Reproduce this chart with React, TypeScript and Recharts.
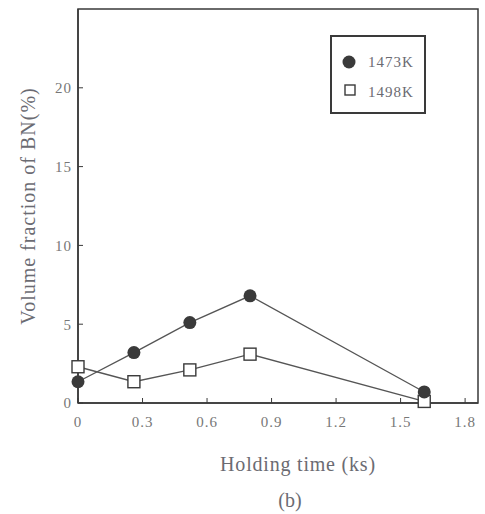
import React from "react";
import { LineChart, Line, XAxis, YAxis, ReferenceArea } from "recharts";

// holding time (ks)
const holdingTime = [0, 0.26, 0.52, 0.8, 1.61];
const bn1473 = [1.35, 3.2, 5.1, 6.8, 0.7];
const bn1498 = [2.3, 1.35, 2.1, 3.1, 0.1];

const xTicks = [0, 0.3, 0.6, 0.9, 1.2, 1.5, 1.8];
const yTicks = [0, 5, 10, 15, 20];
const xMax = 1.86;
const yMax = 25;

const seriesNames = ["1473K", "1498K"];

const font = "'Liberation Serif', 'DejaVu Serif', serif";
const ink = "#3a3a3a";
const textGray = "#6b6b72";

const data = holdingTime.map((t, i) => ({ t, a: bn1473[i], b: bn1498[i] }));

const SquareDot = (p: any) => {
  if (p.cx == null || p.cy == null) return null;
  return (
    <rect
      key={`sq-${p.index}`}
      x={p.cx - 6}
      y={p.cy - 6}
      width={12}
      height={12}
      fill="#fff"
      stroke={ink}
      strokeWidth={1.4}
    />
  );
};

const CircleDot = (p: any) => {
  if (p.cx == null || p.cy == null) return null;
  return <circle key={`c-${p.index}`} cx={p.cx} cy={p.cy} r={6.5} fill={ink} />;
};

const LegendBox = () => (
  <div
    style={{
      position: "absolute",
      left: 330,
      top: 35,
      border: `2px solid ${ink}`,
      width: 96,
      height: 79,
      background: "#fff",
      fontFamily: font,
      fontSize: 15,
      letterSpacing: 1,
      color: textGray,
      boxSizing: "border-box",
      paddingTop: 12,
    }}
  >
    <div style={{ display: "flex", alignItems: "center", height: 26 }}>
      <svg width={36} height={20}>
        <circle cx={17} cy={10} r={6.5} fill={ink} />
      </svg>
      <span>{seriesNames[0]}</span>
    </div>
    <div style={{ display: "flex", alignItems: "center", height: 26, marginTop: 4 }}>
      <svg width={36} height={20}>
        <rect x={13} y={3} width={10} height={10} fill="#fff" stroke={ink} strokeWidth={1.4} />
      </svg>
      <span>{seriesNames[1]}</span>
    </div>
  </div>
);

export default function App() {
  const tickStyle = { fill: "#777", fontSize: 15, fontFamily: font, letterSpacing: 1 };
  return (
    <div style={{ position: "absolute", left: 0, top: 0, width: 485, height: 514, background: "#fff" }}>
      <LineChart
        width={485}
        height={514}
        data={data}
        margin={{ top: 9, right: 7, bottom: 41, left: 0 }}
      >
        <XAxis
          dataKey="t"
          type="number"
          domain={[0, xMax]}
          ticks={xTicks}
          tickFormatter={(v: number) => String(v)}
          height={70}
          tick={tickStyle}
          tickSize={-5}
          tickMargin={18}
          axisLine={{ stroke: ink, strokeWidth: 1.5 }}
          tickLine={{ stroke: ink }}
          label={{
            value: "Holding time (ks)",
            position: "insideBottom",
            offset: 2,
            dx: 20,
            style: { fill: textGray, fontSize: 20, fontFamily: font, letterSpacing: 0.8 },
          }}
        />
        <YAxis
          type="number"
          domain={[0, yMax]}
          ticks={yTicks}
          width={78}
          tick={tickStyle}
          tickSize={-5}
          tickMargin={11}
          axisLine={{ stroke: ink, strokeWidth: 1.5 }}
          tickLine={{ stroke: ink }}
          label={{
            value: "Volume fraction of BN(%)",
            angle: -90,
            position: "insideLeft",
            offset: 28,
            style: { fill: textGray, fontSize: 20, fontFamily: font, letterSpacing: 1, textAnchor: "middle" },
          }}
        />
        <ReferenceArea
          x1={0}
          x2={xMax}
          y1={0}
          y2={yMax}
          fill="none"
          fillOpacity={0}
          stroke={ink}
          strokeWidth={1.5}
        />
        <Line
          dataKey="b"
          name={seriesNames[1]}
          stroke="#555"
          strokeWidth={1.3}
          dot={SquareDot}
          activeDot={false}
          isAnimationActive={false}
        />
        <Line
          dataKey="a"
          name={seriesNames[0]}
          stroke="#555"
          strokeWidth={1.3}
          dot={CircleDot}
          activeDot={false}
          isAnimationActive={false}
        />
      </LineChart>
      <LegendBox />
      <div
        style={{
          position: "absolute",
          left: 0,
          width: 580,
          top: 489,
          textAlign: "center",
          fontFamily: font,
          fontSize: 20,
          color: textGray,
        }}
      >
        (b)
      </div>
    </div>
  );
}
